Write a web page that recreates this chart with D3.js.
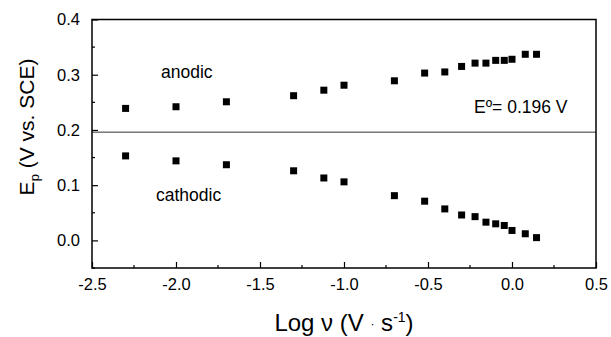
<!DOCTYPE html>
<html>
<head>
<meta charset="utf-8">
<script src="https://cdn.jsdelivr.net/npm/d3@7/dist/d3.min.js"></script>
<style>
  body { margin: 0; background: #fff; }
  text { font-family: Arial, "Liberation Sans", Helvetica, sans-serif; fill: #000; }
</style>
</head>
<body>
<svg id="chart" width="611" height="337"></svg>
<script>
// Data (log scan rate vs peak potential)
const logRate = [-2.30, -2.00, -1.70, -1.30, -1.12, -1.00, -0.70, -0.52, -0.40, -0.30, -0.22, -0.155, -0.097, -0.046, 0.00, 0.079, 0.146];
const anodic  = [0.239, 0.242, 0.251, 0.262, 0.272, 0.281, 0.289, 0.303, 0.305, 0.315, 0.321, 0.321, 0.326, 0.326, 0.328, 0.337, 0.337];
const cathodic = [0.153, 0.144, 0.137, 0.126, 0.113, 0.106, 0.081, 0.071, 0.057, 0.046, 0.043, 0.033, 0.030, 0.027, 0.018, 0.012, 0.005];
const E0 = 0.196;
const xTicks = [-2.5, -2.0, -1.5, -1.0, -0.5, 0.0, 0.5];
const yTicks = [0.0, 0.1, 0.2, 0.3, 0.4];

(function () {
const svg = d3.select("#chart");
const mL = 92, mR = 596, mT = 19.5, mB = 268;
const x = d3.scaleLinear().domain([-2.5, 0.5]).range([mL, mR]);
const y = d3.scaleLinear().domain([-0.05, 0.4]).range([mB, mT]);

// Minor ticks
const xMinor = d3.range(-2.25, 0.5, 0.5);
const yMinor = [-0.05, 0.05, 0.15, 0.25, 0.35];

// Reference line E0
svg.append("line")
  .attr("x1", mL).attr("x2", mR)
  .attr("y1", y(E0)).attr("y2", y(E0))
  .attr("stroke", "#333").attr("stroke-width", 1);

// Frame
svg.append("rect")
  .attr("x", mL).attr("y", mT)
  .attr("width", mR - mL).attr("height", mB - mT)
  .attr("fill", "none").attr("stroke", "#000").attr("stroke-width", 1.5);

// X axis (ticks inward)
const xAxis = d3.axisBottom(x).tickValues(xTicks)
  .tickSizeInner(-6).tickSizeOuter(0).tickPadding(10);
const gx = svg.append("g").attr("transform", `translate(0,${mB})`).call(xAxis);
gx.select(".domain").remove();
gx.selectAll(".tick line").attr("stroke", "#000").attr("stroke-width", 1.2);
gx.selectAll("text").attr("font-size", 16.5).attr("font-family", "Arial, 'Liberation Sans', sans-serif")
  .text(d => d3.format(".1f")(d).replace("−", "-"));
svg.append("g").selectAll("line").data(xMinor).join("line")
  .attr("x1", d => x(d)).attr("x2", d => x(d))
  .attr("y1", mB).attr("y2", mB - 3)
  .attr("stroke", "#000").attr("stroke-width", 1.2);

// Y axis
const yAxis = d3.axisLeft(y).tickValues(yTicks)
  .tickSizeInner(-6).tickSizeOuter(0).tickPadding(12);
const gy = svg.append("g").attr("transform", `translate(${mL},0)`).call(yAxis);
gy.select(".domain").remove();
gy.selectAll(".tick line").attr("stroke", "#000").attr("stroke-width", 1.2);
gy.selectAll("text").attr("font-size", 16.5).attr("font-family", "Arial, 'Liberation Sans', sans-serif")
  .text(d => d3.format(".1f")(d));
svg.append("g").selectAll("line").data(yMinor).join("line")
  .attr("x1", mL).attr("x2", mL + 3)
  .attr("y1", d => y(d)).attr("y2", d => y(d))
  .attr("stroke", "#000").attr("stroke-width", 1.2);

// Markers
const sz = 7;
const drawSeries = (vals) => {
  svg.append("g").selectAll("rect").data(logRate.map((d, i) => [d, vals[i]])).join("rect")
    .attr("x", d => x(d[0]) - sz / 2).attr("y", d => y(d[1]) - sz / 2)
    .attr("width", sz).attr("height", sz).attr("fill", "#000");
};
drawSeries(anodic);
drawSeries(cathodic);

// Annotations
svg.append("text").attr("x", 161).attr("y", 78).attr("font-size", 17.5).text("anodic");
svg.append("text").attr("x", 156).attr("y", 201).attr("font-size", 17.5).text("cathodic");
const e0t = svg.append("text").attr("x", 474).attr("y", 113).attr("font-size", 17.5);
e0t.append("tspan").text("E");
e0t.append("tspan").text("º");
e0t.append("tspan").text("= 0.196 V");

// Axis titles
const xt = svg.append("text").attr("x", (mL + mR) / 2).attr("y", 331)
  .attr("text-anchor", "middle").attr("font-size", 24);
xt.append("tspan").text("Log ν (V ");
xt.append("tspan").attr("font-size", 12).attr("dy", -3).text("·");
xt.append("tspan").attr("dy", 3).text(" s");
xt.append("tspan").attr("font-size", 14).attr("dy", -9).text("-1");
xt.append("tspan").attr("dy", 9).text(")");

const yt = svg.append("text").attr("transform", `translate(34,127) rotate(-90)`)
  .attr("text-anchor", "middle").attr("font-size", 21);
yt.append("tspan").text("E");
yt.append("tspan").attr("font-size", 13).attr("dy", 5).text("p");
yt.append("tspan").attr("dy", -5).text(" (V vs. SCE)");
})();
</script>
</body>
</html>
